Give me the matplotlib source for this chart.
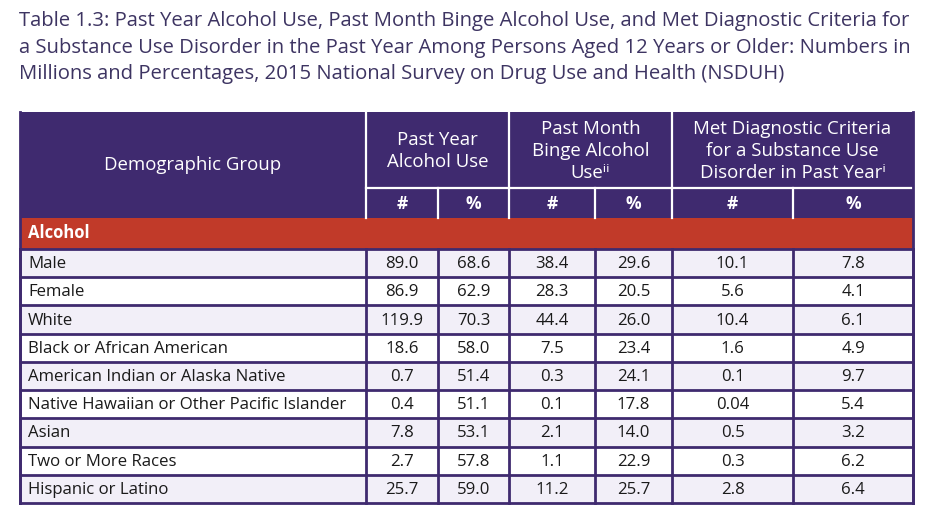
import matplotlib.pyplot as plt
from matplotlib.patches import Rectangle

plt.rcParams['font.family'] = ['Open Sans', 'DejaVu Sans']

# table content
title = ("Table 1.3: Past Year Alcohol Use, Past Month Binge Alcohol Use, and Met Diagnostic Criteria for\n"
         "a Substance Use Disorder in the Past Year Among Persons Aged 12 Years or Older: Numbers in\n"
         "Millions and Percentages, 2015 National Survey on Drug Use and Health (NSDUH)")
group_headers = ["Past Year\nAlcohol Use",
                 "Past Month\nBinge Alcohol\nUse\u2071\u2071",
                 "Met Diagnostic Criteria\nfor a Substance Use\nDisorder in Past Year\u2071"]
sub_headers = ["#", "%", "#", "%", "#", "%"]
section = "Alcohol"
groups = ["Male", "Female", "White", "Black or African American",
          "American Indian or Alaska Native",
          "Native Hawaiian or Other Pacific Islander", "Asian",
          "Two or More Races", "Hispanic or Latino"]
year_num = ["89.0", "86.9", "119.9", "18.6", "0.7", "0.4", "7.8", "2.7", "25.7"]
year_pct = ["68.6", "62.9", "70.3", "58.0", "51.4", "51.1", "53.1", "57.8", "59.0"]
binge_num = ["38.4", "28.3", "44.4", "7.5", "0.3", "0.1", "2.1", "1.1", "11.2"]
binge_pct = ["29.6", "20.5", "26.0", "23.4", "24.1", "17.8", "14.0", "22.9", "25.7"]
sud_num = ["10.1", "5.6", "10.4", "1.6", "0.1", "0.04", "0.5", "0.3", "2.8"]
sud_pct = ["7.8", "4.1", "6.1", "4.9", "9.7", "5.4", "3.2", "6.2", "6.4"]

# layout (pixels)
col_x = [20, 366, 438, 509, 595, 672, 793, 913]
top, sub_y, sec_y, body_y, bottom = 112, 188, 218, 249, 503
purple = "#3f2a6f"
red = "#c13a29"
tint = "#f2eff8"
title_col = "#3d3462"

fig = plt.figure(figsize=(9.32, 5.22), dpi=100)
ax = fig.add_axes([0, 0, 1, 1])
ax.set_xlim(0, 932)
ax.set_ylim(522, 0)
ax.axis("off")

ax.text(19, 11, title, ha="left", va="top", fontsize=14.6, color=title_col,
        linespacing=1.45)

# header
ax.add_patch(Rectangle((col_x[0], top), col_x[-1] - col_x[0], sec_y - top,
                       facecolor=purple, edgecolor="none"))
ax.text((col_x[0] + col_x[1]) / 2, (top + sec_y) / 2, "Demographic Group",
        ha="center", va="center", color="white", fontsize=13.4)
for i, h in enumerate(group_headers):
    x0, x1 = col_x[1 + 2 * i], col_x[3 + 2 * i]
    ax.text((x0 + x1) / 2, (top + sub_y) / 2 + 1, h, ha="center", va="center",
            color="white", fontsize=13.4, linespacing=1.27)
for j, s in enumerate(sub_headers):
    x0, x1 = col_x[1 + j], col_x[2 + j]
    ax.text((x0 + x1) / 2, (sub_y + sec_y) / 2 + 1, s, ha="center", va="center",
            color="white", fontsize=12.5, fontweight="bold")
# header lines (white)
ax.plot([col_x[1], col_x[-1]], [sub_y, sub_y], color="white", lw=1.6)
for k in [1, 3, 5]:
    ax.plot([col_x[k], col_x[k]], [top, sec_y], color="white", lw=1.6)
for k in [2, 4, 6]:
    ax.plot([col_x[k], col_x[k]], [sub_y, sec_y], color="white", lw=1.6)

# section row
ax.add_patch(Rectangle((col_x[0], sec_y), col_x[-1] - col_x[0], body_y - sec_y,
                       facecolor=red, edgecolor="none"))
ax.text(col_x[0] + 8, (sec_y + body_y) / 2, section, ha="left", va="center",
        color="white", fontsize=12, fontweight="bold")

# body
row_h = (bottom - body_y) / len(groups)
cols = [year_num, year_pct, binge_num, binge_pct, sud_num, sud_pct]
for r, g in enumerate(groups):
    y0 = body_y + r * row_h
    fc = tint if r % 2 == 0 else "white"
    ax.add_patch(Rectangle((col_x[0], y0), col_x[-1] - col_x[0], row_h,
                           facecolor=fc, edgecolor="none"))
    yc = y0 + row_h / 2 + 1
    ax.text(col_x[0] + 8, yc, g, ha="left", va="center", color="#1a1a1a",
            fontsize=12.1)
    for j, c in enumerate(cols):
        ax.text((col_x[1 + j] + col_x[2 + j]) / 2, yc, c[r], ha="center",
                va="center", color="#1a1a1a", fontsize=12.1)

# body grid
for r in range(len(groups) + 1):
    y = body_y + r * row_h
    ax.plot([col_x[0], col_x[-1]], [y, y], color=purple, lw=2)
for x in col_x:
    ax.plot([x, x], [body_y, bottom], color=purple, lw=2)
ax.plot([col_x[0], col_x[0]], [top, bottom], color=purple, lw=2)
ax.plot([col_x[-1], col_x[-1]], [top, bottom], color=purple, lw=2)

fig.savefig("out.png", dpi=100)
